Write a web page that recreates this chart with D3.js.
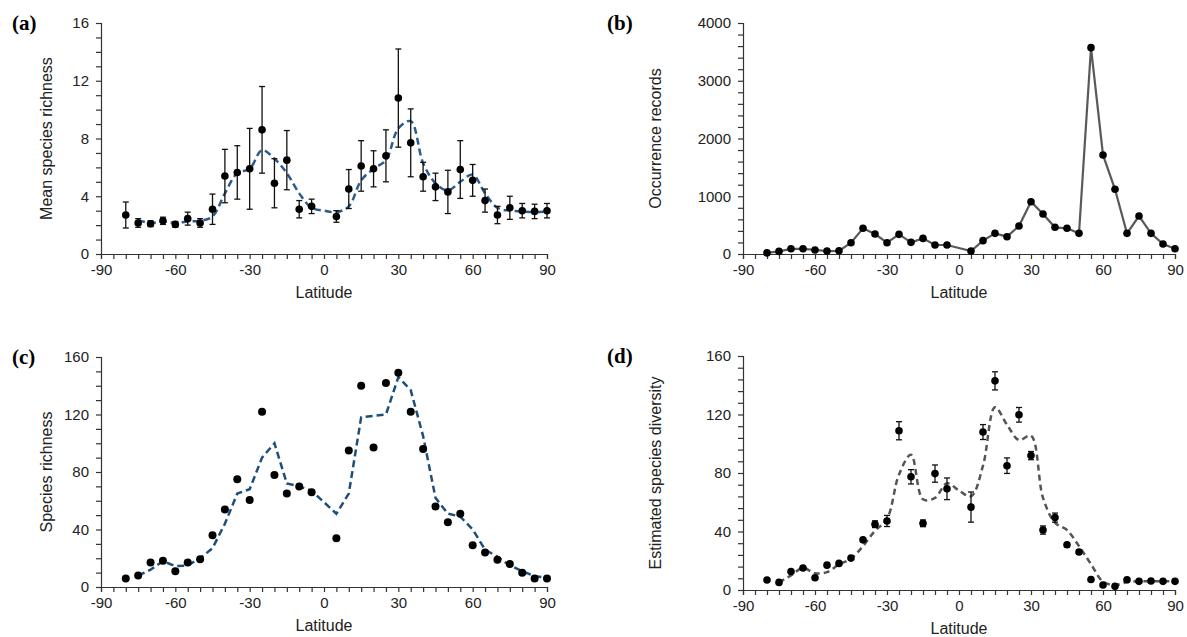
<!DOCTYPE html>
<html>
<head>
<meta charset="utf-8">
<script src="https://cdn.jsdelivr.net/npm/d3@7"></script>
<style>
  body { margin: 0; background: #fff; }
  svg { display: block; }
</style>
</head>
<body>
<svg id="chart" width="1187" height="637"></svg>
<script>
// latitude bands with observations (no band at 0)
const latPts = [-80, -75, -70, -65, -60, -55, -50, -45, -40, -35, -30, -25, -20, -15, -10, -5,
    5, 10, 15, 20, 25, 30, 35, 40, 45, 50, 55, 60, 65, 70, 75, 80, 85, 90];
// latitudes of the fitted / dashed lines
const latLine = [-75, -70, -65, -60, -55, -50, -45, -40, -35, -30, -25, -20, -15, -10, -5, 0,
    5, 10, 15, 20, 25, 30, 35, 40, 45, 50, 55, 60, 65, 70, 75, 80, 85, 90];

// (a) mean species richness
const meanRich = [2.7, 2.15, 2.1, 2.3, 2.05, 2.45, 2.15, 3.1, 5.4, 5.65, 5.9, 8.6, 4.9, 6.5, 3.1, 3.3,
    2.6, 4.5, 6.1, 5.9, 6.8, 10.8, 7.7, 5.35, 4.65, 4.3, 5.85, 5.1, 3.7, 2.7, 3.2, 3.0, 2.95, 3.0];
const meanRichErr = [0.9, 0.3, 0.2, 0.25, 0.2, 0.45, 0.3, 1.05, 1.85, 1.85, 2.8, 3.0, 1.7, 2.05, 0.6, 0.5,
    0.4, 1.35, 1.75, 1.25, 1.8, 3.4, 2.35, 1.0, 0.95, 1.5, 2.0, 1.1, 0.8, 0.6, 0.8, 0.5, 0.5, 0.5];
const meanRichLine = [2.35, 2.15, 2.25, 2.15, 2.25, 2.3, 2.6, 4.2, 5.6, 5.9, 7.2, 6.6, 5.6, 4.2, 3.2, 3.0,
    2.9, 3.3, 5.1, 5.9, 6.5, 8.7, 9.2, 6.3, 4.9, 4.4, 5.0, 5.5, 4.2, 3.2, 3.0, 2.95, 2.9, 2.95];

// (b) occurrence records
const occRecords = [20, 45, 90, 90, 70, 50, 55, 196, 445, 346, 196, 340, 202, 270, 156, 156,
    52, 231, 358, 300, 485, 906, 693, 462, 445, 358, 3573, 1715, 1120, 358, 658, 358, 173, 92];

// (c) species richness
const sppRich = [6, 8, 17, 18.3, 11, 17, 19.3, 36, 54, 75, 60.5, 122, 78, 65, 70, 66,
    34, 95, 140, 97, 142, 149, 122, 96, 56, 45, 51, 29, 24, 19, 16, 10, 6, 6];
const sppRichLine = [8, 12, 18, 14.5, 15, 20, 27, 44, 65, 68, 90, 100, 72, 70, 67, 59,
    51, 65, 118, 119, 120, 146, 137, 105, 62, 51, 49, 40, 26, 21, 15, 11, 7.5, 6.5];

// (d) estimated species diversity
const estDiv = [6.8, 5.2, 12.7, 15, 8.4, 17, 18.2, 21.8, 34.3, 45, 47.2, 108.9, 77.4, 45.6, 79.6, 69.2,
    56.7, 108, 143, 85, 119.8, 91.9, 41, 49.5, 30.9, 26, 7.2, 3.4, 2.5, 7, 5.9, 6.2, 5.9, 5.9];
const estDivErr = [0.8, 0.8, 0.8, 0.8, 0.8, 0.8, 0.8, 1, 1.2, 2.3, 3.8, 6.2, 4.9, 2.3, 5.9, 7.4,
    10.3, 5.1, 6.2, 5.3, 5, 2.8, 2.8, 3.1, 1.5, 1.5, 1, 0.8, 0.8, 0.8, 0.8, 0.8, 0.8, 0.8];
const estDivLine = [5.2, 10, 15, 11.5, 12.2, 17.5, 21.5, 30, 40.5, 48.5, 79, 92.5, 62, 63, 73, 68,
    64, 85, 125, 113, 102.5, 105.5, 63, 46, 41, 30, 17.7, 5.7, 3.4, 5.4, 6, 6, 6, 6];

const svg = d3.select("#chart");
const FONT = "'Liberation Sans', Arial, sans-serif";

function drawPanel(p) {
    const x = d3.scaleLinear().domain([-90, 90]).range([p.x0, p.x1]);
    const y = d3.scaleLinear().domain([0, p.yMax]).range([p.y0, p.y1]);
    const g = svg.append("g");

    // y axis: minor ticks everywhere, labels on majors only
    const yAxis = g.append("g")
        .attr("transform", `translate(${p.x0},0)`)
        .call(d3.axisLeft(y)
            .tickValues(d3.range(0, p.yMax + 1e-9, p.yMinor))
            .tickSize(5).tickPadding(7)
            .tickFormat(d => (Math.round(d / p.yMinor) % p.yMajorEvery === 0) ? String(d) : ""));

    const xAxis = g.append("g")
        .attr("transform", `translate(0,${p.y0})`)
        .call(d3.axisBottom(x)
            .tickValues(d3.range(-90, 91, 5))
            .tickSize(5).tickPadding(5)
            .tickFormat(d => (d % 30 === 0) ? String(d) : ""));

    [yAxis, xAxis].forEach(a => {
        a.selectAll("path, line").attr("stroke", "#333").attr("stroke-width", 1.2);
        a.selectAll("text").attr("fill", "#222").style("font-family", FONT).style("font-size", "15px");
    });

    // axis titles
    g.append("text")
        .attr("x", (p.x0 + p.x1) / 2)
        .attr("y", p.y0 + 44)
        .attr("text-anchor", "middle")
        .style("font-family", FONT).style("font-size", "16px").attr("fill", "#222")
        .text("Latitude");

    g.append("text")
        .attr("transform", `translate(${p.titleX},${(p.y0 + p.y1) / 2}) rotate(-90)`)
        .attr("text-anchor", "middle")
        .attr("dy", "0.35em")
        .style("font-family", FONT).style("font-size", "16px").attr("fill", "#222")
        .text(p.yTitle);

    g.append("text")
        .attr("x", p.labelX)
        .attr("y", p.y1 + 7)
        .style("font-family", "'Liberation Serif', 'Times New Roman', serif")
        .style("font-size", "21px").style("font-weight", "bold")
        .text(p.label);

    // connecting / fitted line
    if (p.line) {
        const lineData = p.line.lat.map((l, i) => [l, p.line.vals[i]]);
        g.append("path")
            .datum(lineData)
            .attr("fill", "none")
            .attr("stroke", p.line.color)
            .attr("stroke-width", p.line.width)
            .attr("stroke-dasharray", p.line.dash || null)
            .attr("d", d3.line().x(d => x(d[0])).y(d => y(d[1])).curve(p.line.curve));
    }

    const pts = latPts.map((l, i) => ({ lat: l, v: p.vals[i], e: p.err ? p.err[i] : 0 }));

    // error bars
    if (p.err) {
        const eb = g.append("g").attr("stroke", "#111").attr("stroke-width", 1.3);
        pts.forEach(d => {
            const cx = x(d.lat);
            eb.append("line").attr("x1", cx).attr("x2", cx).attr("y1", y(d.v - d.e)).attr("y2", y(d.v + d.e));
            [d.v - d.e, d.v + d.e].forEach(v => {
                eb.append("line").attr("x1", cx - 3).attr("x2", cx + 3).attr("y1", y(v)).attr("y2", y(v));
            });
        });
    }

    g.append("g").selectAll("circle")
        .data(pts)
        .enter()
        .append("circle")
        .attr("cx", d => x(d.lat))
        .attr("cy", d => y(d.v))
        .attr("r", p.r)
        .attr("fill", "#000");
}

drawPanel({
    label: "(a)", labelX: 12, titleX: 46, yTitle: "Mean species richness",
    x0: 101, x1: 547, y0: 254, y1: 23, yMax: 16, yMinor: 1, yMajorEvery: 4,
    vals: meanRich, err: meanRichErr, r: 3.8,
    line: { lat: latLine, vals: meanRichLine, color: "#2e5b8e", width: 2.5, dash: "7,4",
            curve: d3.curveCatmullRom.alpha(0.5) }
});

drawPanel({
    label: "(b)", labelX: 607, titleX: 655, yTitle: "Occurrence records",
    x0: 743, x1: 1175, y0: 254, y1: 23, yMax: 4000, yMinor: 200, yMajorEvery: 5,
    vals: occRecords, r: 3.8,
    line: { lat: latPts, vals: occRecords, color: "#595959", width: 2.2, curve: d3.curveLinear }
});

drawPanel({
    label: "(c)", labelX: 12, titleX: 46, yTitle: "Species richness",
    x0: 101, x1: 547, y0: 587, y1: 357, yMax: 160, yMinor: 10, yMajorEvery: 4,
    vals: sppRich, r: 4,
    line: { lat: latLine, vals: sppRichLine, color: "#1f4e79", width: 2.5, dash: "7,4",
            curve: d3.curveLinear }
});

drawPanel({
    label: "(d)", labelX: 607, titleX: 655, yTitle: "Estimated species diversity",
    x0: 743, x1: 1175, y0: 590, y1: 356, yMax: 160, yMinor: 8, yMajorEvery: 5,
    vals: estDiv, err: estDivErr, r: 3.8,
    line: { lat: latLine, vals: estDivLine, color: "#555555", width: 2.5, dash: "6,4",
            curve: d3.curveCatmullRom.alpha(0.5) }
});
</script>
</body>
</html>
